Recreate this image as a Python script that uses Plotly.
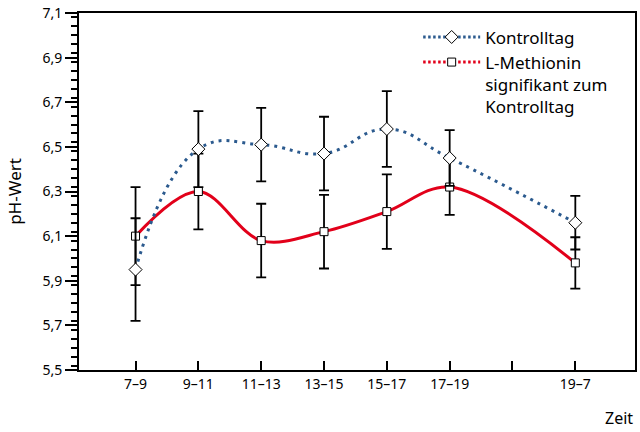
import plotly.graph_objects as go

# Data
x_pos = [1, 2, 3, 4, 5, 6, 8]
tick_vals = [1, 2, 3, 4, 5, 6, 7, 8]
tick_text = ["7–9", "9–11", "11–13", "13–15", "15–17", "17–19", "", "19–7"]

kontroll = [5.95, 6.49, 6.51, 6.47, 6.58, 6.45, 6.16]
kontroll_err = [0.23, 0.17, 0.165, 0.165, 0.17, 0.125, 0.12]

methionin = [6.10, 6.30, 6.08, 6.12, 6.21, 6.32, 5.98]
methionin_err = [0.22, 0.17, 0.165, 0.165, 0.167, 0.125, 0.115]

BLUE = "#2b5a8e"
RED = "#e2001a"
FONT = "Noto Sans"

fig = go.Figure()

fig.add_trace(go.Scatter(
    x=x_pos, y=methionin, mode="lines+markers", showlegend=False,
    line=dict(color=RED, width=3, shape="spline", smoothing=1),
    marker=dict(symbol="square", size=8, color="white", line=dict(color="black", width=1)),
    error_y=dict(type="data", array=methionin_err, visible=True, color="black", thickness=1.8, width=5),
))
fig.add_trace(go.Scatter(
    x=x_pos, y=kontroll, mode="lines+markers", showlegend=False,
    line=dict(color=BLUE, width=3, shape="spline", smoothing=1.3, dash="3px,5px"),
    marker=dict(symbol="diamond", size=10, color="white", line=dict(color="black", width=1)),
    error_y=dict(type="data", array=kontroll_err, visible=True, color="black", thickness=1.8, width=5),
))

# legend-only entries (legend shows dotted symbols for both)
fig.add_trace(go.Scatter(
    x=[None], y=[None], mode="lines+markers", name="Kontrolltag",
    line=dict(color=BLUE, width=3, dash="2.5px,2.5px"),
    marker=dict(symbol="diamond", size=10, color="white", line=dict(color="black", width=1)),
))
fig.add_trace(go.Scatter(
    x=[None], y=[None], mode="lines+markers", name="L-Methionin<br>signifikant zum<br>Kontrolltag",
    line=dict(color=RED, width=3, dash="2.5px,2.5px"),
    marker=dict(symbol="square", size=8, color="white", line=dict(color="black", width=1)),
))

fig.update_layout(
    width=640, height=432,
    margin=dict(l=79, r=3, t=12, b=62),
    paper_bgcolor="white", plot_bgcolor="white",
    separators=",.",
    font=dict(family=FONT, size=14, color="black"),
    legend=dict(x=0.61, y=0.982, xanchor="left", yanchor="top", valign="top",
                itemwidth=57,
                font=dict(family=FONT, size=17, color="black"),
                bgcolor="rgba(0,0,0,0)", tracegroupgap=0),
    annotations=[dict(text="Zeit", x=0.971, y=-0.134, xref="paper", yref="paper",
                      xanchor="center", yanchor="middle",
                      showarrow=False, font=dict(family=FONT, size=16, color="black"))],
)

fig.update_xaxes(
    range=[0.1, 8.95], tickmode="array", tickvals=tick_vals, ticktext=tick_text,
    ticks="inside", ticklen=9, tickwidth=2, tickcolor="black",
    showline=True, linecolor="black", linewidth=2, mirror=True,
    showgrid=False, zeroline=False, tickfont=dict(size=14),
)
fig.update_yaxes(
    range=[5.5, 7.1], dtick=0.2, tick0=5.5, tickformat=".1f",
    ticks="outside", ticklen=12, tickwidth=2, tickcolor="black",
    minor=dict(dtick=0.04, ticks="outside", ticklen=6, tickwidth=2, tickcolor="black"),
    showline=True, linecolor="black", linewidth=2, mirror=True,
    showgrid=False, zeroline=False, tickfont=dict(size=14),
    title=dict(text="pH-Wert", font=dict(size=17), standoff=16),
)

# remove the browser's default 8px body margin so the figure fills the window exactly
fig.write_html("out.html", config={"displayModeBar": False},
               post_script="document.body.style.margin='0';")
